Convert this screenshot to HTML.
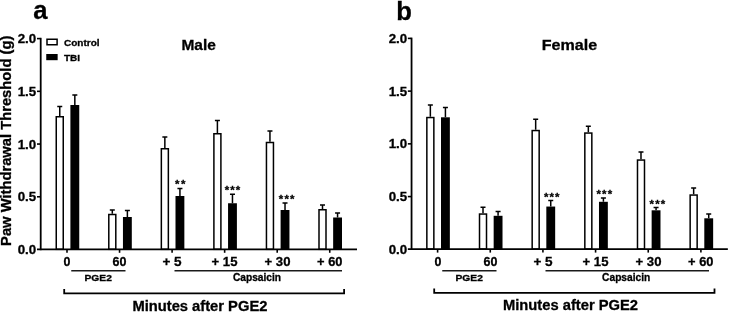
<!DOCTYPE html>
<html lang="en"><head><meta charset="utf-8"><title>Paw Withdrawal Threshold</title>
<style>html,body{margin:0;padding:0;background:#fff}svg{display:block;will-change:transform}text{font-family:"Liberation Sans", Arial, Helvetica, sans-serif;font-weight:bold;fill:#000;stroke:#000;stroke-width:0.3px}</style>
</head><body>
<svg width="729" height="312" viewBox="0 0 729 312">
<rect width="729" height="312" fill="#fff"/>
<g>
<text x="33.2" y="19.1" font-size="25.6">a</text>
<text x="198.6" y="49.5" font-size="15.3" text-anchor="middle" textLength="34.4" lengthAdjust="spacingAndGlyphs">Male</text>
<g transform="translate(0.00 0.00)">
<path d="M59.75 116.00V106.60M57.25 106.60H62.25" stroke="#000" stroke-width="1.5" fill="none"/>
<rect x="56.25" y="116.75" width="7.00" height="132.55" fill="#fff" stroke="#000" stroke-width="1.5"/>
<path d="M74.83 105.00V95.10M72.33 95.10H77.33" stroke="#000" stroke-width="1.5" fill="none"/>
<rect x="70.40" y="105.00" width="8.85" height="144.30" fill="#000"/>
<path d="M112.30 213.75V210.10M109.80 210.10H114.80" stroke="#000" stroke-width="1.5" fill="none"/>
<rect x="108.80" y="214.50" width="7.00" height="34.80" fill="#fff" stroke="#000" stroke-width="1.5"/>
<path d="M127.38 217.00V210.60M124.88 210.60H129.88" stroke="#000" stroke-width="1.5" fill="none"/>
<rect x="122.95" y="217.00" width="8.85" height="32.30" fill="#000"/>
<path d="M164.85 148.00V137.10M162.35 137.10H167.35" stroke="#000" stroke-width="1.5" fill="none"/>
<rect x="161.35" y="148.75" width="7.00" height="100.55" fill="#fff" stroke="#000" stroke-width="1.5"/>
<path d="M179.93 196.00V188.60M177.43 188.60H182.43" stroke="#000" stroke-width="1.5" fill="none"/>
<rect x="175.50" y="196.00" width="8.85" height="53.30" fill="#000"/>
<text x="180.23" y="188.40" font-size="11.4" stroke="none" text-anchor="middle" textLength="10.4" lengthAdjust="spacing">**</text>
<path d="M217.40 133.00V120.60M214.90 120.60H219.90" stroke="#000" stroke-width="1.5" fill="none"/>
<rect x="213.90" y="133.75" width="7.00" height="115.55" fill="#fff" stroke="#000" stroke-width="1.5"/>
<path d="M232.47 203.25V194.35M229.97 194.35H234.97" stroke="#000" stroke-width="1.5" fill="none"/>
<rect x="228.05" y="203.25" width="8.85" height="46.05" fill="#000"/>
<text x="232.47" y="194.15" font-size="11.4" stroke="none" text-anchor="middle" textLength="15.6" lengthAdjust="spacing">***</text>
<path d="M269.95 141.75V131.10M267.45 131.10H272.45" stroke="#000" stroke-width="1.5" fill="none"/>
<rect x="266.45" y="142.50" width="7.00" height="106.80" fill="#fff" stroke="#000" stroke-width="1.5"/>
<path d="M285.02 210.00V203.10M282.52 203.10H287.52" stroke="#000" stroke-width="1.5" fill="none"/>
<rect x="280.60" y="210.00" width="8.85" height="39.30" fill="#000"/>
<text x="286.62" y="202.90" font-size="11.4" stroke="none" text-anchor="middle" textLength="15.6" lengthAdjust="spacing">***</text>
<path d="M322.50 209.00V205.10M320.00 205.10H325.00" stroke="#000" stroke-width="1.5" fill="none"/>
<rect x="319.00" y="209.75" width="7.00" height="39.55" fill="#fff" stroke="#000" stroke-width="1.5"/>
<path d="M337.57 217.50V213.10M335.07 213.10H340.07" stroke="#000" stroke-width="1.5" fill="none"/>
<rect x="333.15" y="217.50" width="8.85" height="31.80" fill="#000"/>
<path d="M40.70 37.80V250.20" stroke="#000" stroke-width="1.8" fill="none"/>
<path d="M37.00 249.30H357.00" stroke="#000" stroke-width="1.8" fill="none"/>
<path d="M37.00 196.78H40.50" stroke="#000" stroke-width="1.6" fill="none"/>
<path d="M37.00 144.05H40.50" stroke="#000" stroke-width="1.6" fill="none"/>
<path d="M37.00 91.32H40.50" stroke="#000" stroke-width="1.6" fill="none"/>
<path d="M37.00 38.60H40.50" stroke="#000" stroke-width="1.6" fill="none"/>
<path d="M67.00 249.30V252.80" stroke="#000" stroke-width="1.6" fill="none"/>
<path d="M119.55 249.30V252.80" stroke="#000" stroke-width="1.6" fill="none"/>
<path d="M172.10 249.30V252.80" stroke="#000" stroke-width="1.6" fill="none"/>
<path d="M224.65 249.30V252.80" stroke="#000" stroke-width="1.6" fill="none"/>
<path d="M277.20 249.30V252.80" stroke="#000" stroke-width="1.6" fill="none"/>
<path d="M329.75 249.30V252.80" stroke="#000" stroke-width="1.6" fill="none"/>
</g>
<text x="36.20" y="254.00" font-size="12.9" text-anchor="end" textLength="18.5" lengthAdjust="spacingAndGlyphs">0.0</text>
<text x="36.20" y="201.28" font-size="12.9" text-anchor="end" textLength="18.5" lengthAdjust="spacingAndGlyphs">0.5</text>
<text x="36.20" y="148.55" font-size="12.9" text-anchor="end" textLength="18.5" lengthAdjust="spacingAndGlyphs">1.0</text>
<text x="36.20" y="95.82" font-size="12.9" text-anchor="end" textLength="18.5" lengthAdjust="spacingAndGlyphs">1.5</text>
<text x="36.20" y="43.10" font-size="12.9" text-anchor="end" textLength="18.5" lengthAdjust="spacingAndGlyphs">2.0</text>
<text x="67.00" y="265.8" font-size="13" text-anchor="middle" textLength="6.9" lengthAdjust="spacingAndGlyphs">0</text>
<text x="119.50" y="265.8" font-size="13" text-anchor="middle" textLength="13.9" lengthAdjust="spacingAndGlyphs">60</text>
<text x="172.00" y="265.8" font-size="13" text-anchor="middle" textLength="19.2" lengthAdjust="spacingAndGlyphs">+ 5</text>
<text x="224.50" y="265.8" font-size="13" text-anchor="middle" textLength="25.9" lengthAdjust="spacingAndGlyphs">+ 15</text>
<text x="277.50" y="265.8" font-size="13" text-anchor="middle" textLength="25.9" lengthAdjust="spacingAndGlyphs">+ 30</text>
<text x="329.75" y="265.8" font-size="13" text-anchor="middle" textLength="25.4" lengthAdjust="spacingAndGlyphs">+ 60</text>
<path d="M71.25 270.7H125.50" stroke="#1a1a1a" stroke-width="1.4" fill="none"/>
<text x="98.20" y="281.2" font-size="9.7" text-anchor="middle" textLength="27.4" lengthAdjust="spacingAndGlyphs">PGE2</text>
<path d="M174.50 270.7H342.00" stroke="#1a1a1a" stroke-width="1.4" fill="none"/>
<text x="257.00" y="281.3" font-size="10.3" text-anchor="middle" textLength="48.2" lengthAdjust="spacingAndGlyphs">Capsaicin</text>
<path d="M64.20 289.00V293.40H344.10V289.00" stroke="#000" stroke-width="1.8" fill="none"/>
<text x="199.90" y="310.70" font-size="14.5" text-anchor="middle" textLength="135.0" lengthAdjust="spacingAndGlyphs">Minutes after PGE2</text>
</g>
<g>
<text x="396.2" y="19.5" font-size="25.6">b</text>
<text x="569.4" y="49.5" font-size="15.3" text-anchor="middle" textLength="55.4" lengthAdjust="spacingAndGlyphs">Female</text>
<g transform="translate(-0.15 -0.20)">
<path d="M430.50 117.00V105.10M428.00 105.10H433.00" stroke="#000" stroke-width="1.5" fill="none"/>
<rect x="427.00" y="117.75" width="7.00" height="131.55" fill="#fff" stroke="#000" stroke-width="1.5"/>
<path d="M445.57 117.50V107.60M443.07 107.60H448.07" stroke="#000" stroke-width="1.5" fill="none"/>
<rect x="441.15" y="117.50" width="8.85" height="131.80" fill="#000"/>
<path d="M483.16 213.50V207.35M480.66 207.35H485.66" stroke="#000" stroke-width="1.5" fill="none"/>
<rect x="479.66" y="214.25" width="7.00" height="35.05" fill="#fff" stroke="#000" stroke-width="1.5"/>
<path d="M498.23 216.00V211.60M495.73 211.60H500.73" stroke="#000" stroke-width="1.5" fill="none"/>
<rect x="493.81" y="216.00" width="8.85" height="33.30" fill="#000"/>
<path d="M535.82 130.00V119.35M533.32 119.35H538.32" stroke="#000" stroke-width="1.5" fill="none"/>
<rect x="532.32" y="130.75" width="7.00" height="118.55" fill="#fff" stroke="#000" stroke-width="1.5"/>
<path d="M550.89 206.75V200.60M548.39 200.60H553.39" stroke="#000" stroke-width="1.5" fill="none"/>
<rect x="546.47" y="206.75" width="8.85" height="42.55" fill="#000"/>
<text x="551.89" y="200.80" font-size="11.4" stroke="none" text-anchor="middle" textLength="15.6" lengthAdjust="spacing">***</text>
<path d="M588.48 132.50V126.35M585.98 126.35H590.98" stroke="#000" stroke-width="1.5" fill="none"/>
<rect x="584.98" y="133.25" width="7.00" height="116.05" fill="#fff" stroke="#000" stroke-width="1.5"/>
<path d="M603.56 202.00V198.10M601.06 198.10H606.06" stroke="#000" stroke-width="1.5" fill="none"/>
<rect x="599.13" y="202.00" width="8.85" height="47.30" fill="#000"/>
<text x="604.46" y="198.30" font-size="11.4" stroke="none" text-anchor="middle" textLength="15.6" lengthAdjust="spacing">***</text>
<path d="M641.14 159.50V152.10M638.64 152.10H643.64" stroke="#000" stroke-width="1.5" fill="none"/>
<rect x="637.64" y="160.25" width="7.00" height="89.05" fill="#fff" stroke="#000" stroke-width="1.5"/>
<path d="M656.21 210.50V207.60M653.71 207.60H658.71" stroke="#000" stroke-width="1.5" fill="none"/>
<rect x="651.79" y="210.50" width="8.85" height="38.80" fill="#000"/>
<text x="657.51" y="207.80" font-size="11.4" stroke="none" text-anchor="middle" textLength="15.6" lengthAdjust="spacing">***</text>
<path d="M693.80 194.50V188.10M691.30 188.10H696.30" stroke="#000" stroke-width="1.5" fill="none"/>
<rect x="690.30" y="195.25" width="7.00" height="54.05" fill="#fff" stroke="#000" stroke-width="1.5"/>
<path d="M708.88 218.50V214.10M706.38 214.10H711.38" stroke="#000" stroke-width="1.5" fill="none"/>
<rect x="704.45" y="218.50" width="8.85" height="30.80" fill="#000"/>
<path d="M411.70 37.80V250.20" stroke="#000" stroke-width="1.8" fill="none"/>
<path d="M408.00 249.30H728.00" stroke="#000" stroke-width="1.8" fill="none"/>
<path d="M408.00 196.78H411.50" stroke="#000" stroke-width="1.6" fill="none"/>
<path d="M408.00 144.05H411.50" stroke="#000" stroke-width="1.6" fill="none"/>
<path d="M408.00 91.32H411.50" stroke="#000" stroke-width="1.6" fill="none"/>
<path d="M408.00 38.60H411.50" stroke="#000" stroke-width="1.6" fill="none"/>
<path d="M437.75 249.30V252.80" stroke="#000" stroke-width="1.6" fill="none"/>
<path d="M490.41 249.30V252.80" stroke="#000" stroke-width="1.6" fill="none"/>
<path d="M543.07 249.30V252.80" stroke="#000" stroke-width="1.6" fill="none"/>
<path d="M595.73 249.30V252.80" stroke="#000" stroke-width="1.6" fill="none"/>
<path d="M648.39 249.30V252.80" stroke="#000" stroke-width="1.6" fill="none"/>
<path d="M701.05 249.30V252.80" stroke="#000" stroke-width="1.6" fill="none"/>
</g>
<text x="407.20" y="253.70" font-size="12.9" text-anchor="end" textLength="18.5" lengthAdjust="spacingAndGlyphs">0.0</text>
<text x="407.20" y="200.97" font-size="12.9" text-anchor="end" textLength="18.5" lengthAdjust="spacingAndGlyphs">0.5</text>
<text x="407.20" y="148.25" font-size="12.9" text-anchor="end" textLength="18.5" lengthAdjust="spacingAndGlyphs">1.0</text>
<text x="407.20" y="95.52" font-size="12.9" text-anchor="end" textLength="18.5" lengthAdjust="spacingAndGlyphs">1.5</text>
<text x="407.20" y="42.80" font-size="12.9" text-anchor="end" textLength="18.5" lengthAdjust="spacingAndGlyphs">2.0</text>
<text x="438.00" y="265.8" font-size="13" text-anchor="middle" textLength="6.9" lengthAdjust="spacingAndGlyphs">0</text>
<text x="490.50" y="265.8" font-size="13" text-anchor="middle" textLength="13.9" lengthAdjust="spacingAndGlyphs">60</text>
<text x="543.00" y="265.8" font-size="13" text-anchor="middle" textLength="19.2" lengthAdjust="spacingAndGlyphs">+ 5</text>
<text x="595.50" y="265.8" font-size="13" text-anchor="middle" textLength="25.9" lengthAdjust="spacingAndGlyphs">+ 15</text>
<text x="648.50" y="265.8" font-size="13" text-anchor="middle" textLength="25.9" lengthAdjust="spacingAndGlyphs">+ 30</text>
<text x="700.75" y="265.8" font-size="13" text-anchor="middle" textLength="25.4" lengthAdjust="spacingAndGlyphs">+ 60</text>
<path d="M442.25 270.7H496.50" stroke="#1a1a1a" stroke-width="1.4" fill="none"/>
<text x="469.20" y="281.2" font-size="9.7" text-anchor="middle" textLength="27.4" lengthAdjust="spacingAndGlyphs">PGE2</text>
<path d="M545.50 270.7H709.00" stroke="#1a1a1a" stroke-width="1.4" fill="none"/>
<text x="626.20" y="281.3" font-size="10.3" text-anchor="middle" textLength="48.2" lengthAdjust="spacingAndGlyphs">Capsaicin</text>
<path d="M434.20 288.50V292.80H714.50V288.50" stroke="#000" stroke-width="1.8" fill="none"/>
<text x="570.50" y="310.30" font-size="14.5" text-anchor="middle" textLength="135.0" lengthAdjust="spacingAndGlyphs">Minutes after PGE2</text>
</g>
<text transform="translate(11.3 245.9) rotate(-90)" font-size="14.4" textLength="210.2" lengthAdjust="spacingAndGlyphs">Paw Withdrawal Threshold (g)</text>
<rect x="47.0" y="39.25" width="10.1" height="5.5" fill="#fff" stroke="#000" stroke-width="1.5"/>
<rect x="46.25" y="54" width="11.4" height="6.2" fill="#000"/>
<text x="64" y="45.6" font-size="9.5" textLength="35.6" lengthAdjust="spacingAndGlyphs">Control</text>
<text x="64" y="60.8" font-size="9.5" textLength="16.1" lengthAdjust="spacingAndGlyphs">TBI</text>
</svg></body></html>
